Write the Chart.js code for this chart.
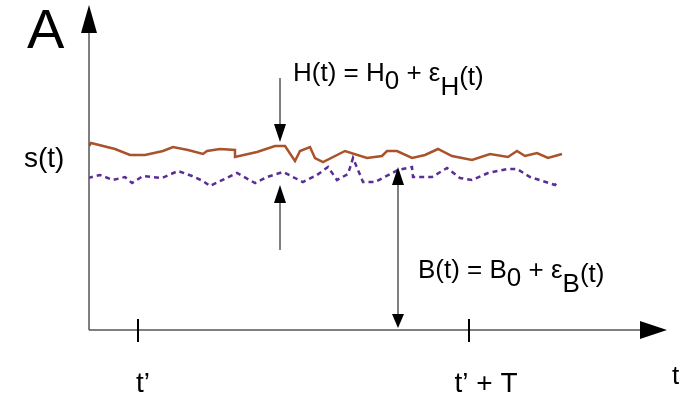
<!DOCTYPE html>
<html>
<head>
<meta charset="utf-8">
<script src="https://cdn.jsdelivr.net/npm/chart.js@4/dist/chart.umd.min.js"></script>
<style>
  html, body { margin: 0; padding: 0; background: #fff; }
  #wrap { width: 684px; height: 396px; }
</style>
</head>
<body>
<div id="wrap"><canvas id="sketch"></canvas></div>
<script>
// time axis runs 0..578, signal axis 0..325 (origin at the axes corner)
const hTimes = [0, 2, 26, 41, 56, 74, 84, 99, 114, 118, 131, 146, 146, 168, 186, 196, 206, 211, 221, 226, 234, 256, 278, 293, 298, 308, 323, 336, 349, 363, 383, 401, 419, 428, 436, 448, 459, 473];
const hValues = [184, 187, 181, 175, 175, 179, 183, 180, 176, 179, 181, 180, 173, 178, 184, 184, 169, 179, 183, 172, 168, 179, 172, 174, 179, 179, 172, 175, 181, 174, 170, 176, 173, 179, 174, 177, 172, 176];

const bTimes = [-1, 11, 24, 36, 43, 54, 73, 89, 103, 114, 121, 148, 166, 178, 194, 214, 228, 239, 248, 259, 264, 274, 286, 309, 323, 324, 343, 358, 371, 383, 399, 418, 428, 441, 466, 469];
const bValues = [152, 155, 150, 153, 147, 154, 152, 159, 154, 149, 144, 157, 147, 153, 158, 148, 155, 163, 150, 156, 172, 148, 148, 160, 163, 153, 153, 162, 152, 150, 157, 161, 161, 153, 145, 149];

// marked instants on the time axis
const tickTimes = [49, 380];
const tickLabels = ["t\u2019", "t\u2019 + T"];

// annotation arrows (time, signal levels)
const hArrowTime = 191;
const bArrowTime = 309;

const toPoints = (xs, ys) => xs.map((x, i) => ({ x: x, y: ys[i] }));

function arrowHead(ctx, x, y, dx, dy, len, half) {
    // tip at (x,y), pointing in direction (dx,dy)
    ctx.beginPath();
    ctx.moveTo(x, y);
    ctx.lineTo(x - dx * len - dy * half, y - dy * len - dx * half);
    ctx.lineTo(x - dx * len + dy * half, y - dy * len + dx * half);
    ctx.closePath();
    ctx.fill();
}

function richText(ctx, x, y, parts, size) {
    let cx = x;
    for (const p of parts) {
        ctx.font = size + 'px "Liberation Sans", Arial, sans-serif';
        ctx.fillText(p[0], cx, y + (p[1] || 0));
        cx += ctx.measureText(p[0]).width;
    }
}

const sketchPlugin = {
    id: 'sketch',
    afterDraw(chart) {
        const ctx = chart.ctx;
        const xs = chart.scales.x, ys = chart.scales.y;
        const x0 = xs.getPixelForValue(0), y0 = ys.getPixelForValue(0);
        const xEnd = xs.getPixelForValue(578), yEnd = ys.getPixelForValue(325);
        ctx.save();

        // axes
        ctx.strokeStyle = '#555';
        ctx.fillStyle = '#000';
        ctx.lineWidth = 1.5;
        ctx.beginPath();
        ctx.moveTo(x0, y0);
        ctx.lineTo(xEnd - 26, y0);
        ctx.moveTo(x0, y0);
        ctx.lineTo(x0, yEnd + 26);
        ctx.stroke();
        arrowHead(ctx, xEnd, y0, 1, 0, 27, 9);
        arrowHead(ctx, x0, yEnd, 0, -1, 28, 8);

        // ticks
        ctx.strokeStyle = '#000';
        ctx.lineWidth = 2;
        tickTimes.forEach(t => {
            const px = xs.getPixelForValue(t);
            ctx.beginPath();
            ctx.moveTo(px, y0 - 11);
            ctx.lineTo(px, y0 + 12);
            ctx.stroke();
        });

        // H arrows
        ctx.lineWidth = 1;
        const hx = xs.getPixelForValue(hArrowTime);
        ctx.beginPath();
        ctx.moveTo(hx, ys.getPixelForValue(252));
        ctx.lineTo(hx, ys.getPixelForValue(205));
        ctx.moveTo(hx, ys.getPixelForValue(127));
        ctx.lineTo(hx, ys.getPixelForValue(80));
        ctx.stroke();
        arrowHead(ctx, hx, ys.getPixelForValue(188), 0, 1, 18, 6);
        arrowHead(ctx, hx, ys.getPixelForValue(145), 0, -1, 18, 6);

        // B arrow
        const bx = xs.getPixelForValue(bArrowTime);
        ctx.beginPath();
        ctx.moveTo(bx, ys.getPixelForValue(145));
        ctx.lineTo(bx, ys.getPixelForValue(15));
        ctx.stroke();
        arrowHead(ctx, bx, ys.getPixelForValue(163), 0, -1, 18, 6);
        arrowHead(ctx, bx, ys.getPixelForValue(2), 0, 1, 14, 6);

        // text
        ctx.fillStyle = '#000';
        ctx.textBaseline = 'alphabetic';
        ctx.textAlign = 'left';
        richText(ctx, 27, 48, [['A']], 56);
        richText(ctx, 24, 167, [['s(t)']], 28);
        richText(ctx, 293, 81, [['H(t) = H'], ['0', 8], [' + \u03b5'], ['H', 14], ['(t)', 4]], 26);
        richText(ctx, 418, 278, [['B(t) = B'], ['0', 8], [' + \u03b5'], ['B', 14], ['(t)', 4]], 26);
        ctx.font = '28px "Liberation Sans", Arial, sans-serif';
        ctx.textAlign = 'center';
        tickTimes.forEach((t, i) => {
            ctx.fillText(tickLabels[i], xs.getPixelForValue(t) + (i === 0 ? 5 : 17), 392);
        });
        ctx.font = '26px "Liberation Sans", Arial, sans-serif';
        ctx.textAlign = 'left';
        ctx.fillText('t', 672, 384);
        ctx.restore();
    }
};

new Chart(document.getElementById('sketch'), {
    type: 'line',
    data: {
        datasets: [
            {
                label: 'H(t)',
                data: toPoints(hTimes, hValues),
                borderColor: '#a8532c',
                borderWidth: 2.5,
                pointRadius: 0,
                tension: 0,
                fill: false
            },
            {
                label: 'B(t)',
                data: toPoints(bTimes, bValues),
                borderColor: '#5b2e94',
                borderWidth: 2.5,
                borderDash: [5, 4],
                pointRadius: 0,
                tension: 0,
                fill: false
            }
        ]
    },
    options: {
        responsive: true,
        maintainAspectRatio: false,
        animation: false,
        layout: { padding: { left: 89, right: 17, top: 5, bottom: 66 } },
        plugins: { legend: { display: false }, tooltip: { enabled: false } },
        scales: {
            x: { type: 'linear', min: 0, max: 578, display: false },
            y: { type: 'linear', min: 0, max: 325, display: false }
        }
    },
    plugins: [sketchPlugin]
});
</script>
</body>
</html>
